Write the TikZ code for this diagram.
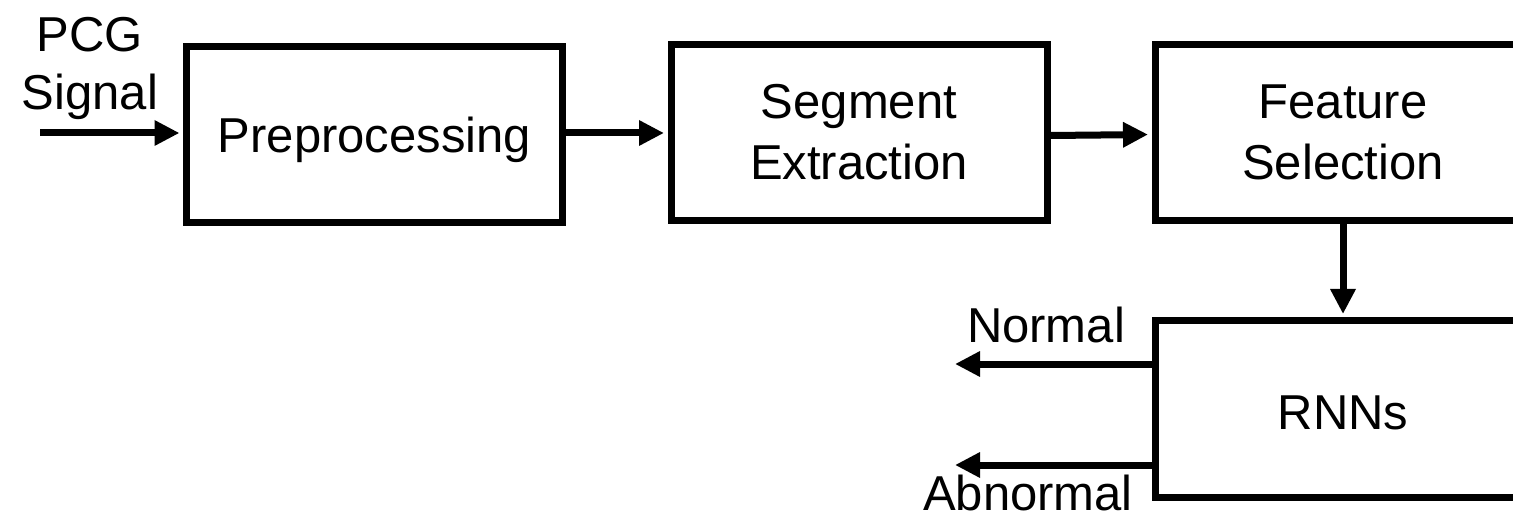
\documentclass[tikz,border=0pt]{standalone}
\usepackage{fontspec}
\setmainfont{Liberation Sans}
\usetikzlibrary{arrows.meta}
\begin{document}
\begin{tikzpicture}[x=1pt,y=-1pt,
  blk/.style={draw, line width=7pt, minimum width=376pt, minimum height=176pt, inner sep=0pt, align=center, font=\fontsize{49}{61}\selectfont},
  arr/.style={line width=7pt, -{Triangle[length=25pt,width=24pt]}},
  lbl/.style={font=\fontsize{49}{53}\selectfont, inner sep=0pt}]
\useasboundingbox (0,0) rectangle (1513,521);
\clip (0,0) rectangle (1513,521);
\node[blk, text height=47pt, text depth=11pt] (pre) at (374.5,134.5) {Preprocessing};
\node[blk] (seg) at (859,132.5) {Segment\\Extraction};
\node[blk] (fea) at (1343,132.5) {Feature\\Selection};
\node[blk, text height=40pt, text depth=0pt] (rnn) at (1343,409) {RNNs};
\node[lbl, anchor=base] (pcg) at (90,52) {PCG};
\node[lbl, anchor=base] (sig) at (90,110) {Signal};
\node[lbl, anchor=base] (tn) at (1046,342) {Normal};
\node[lbl, anchor=base] (ta) at (1028,510) {Abnormal};
\coordinate (in) at (40,133);
\coordinate (nrm) at (955,364);
\coordinate (abn) at (955,465);
\draw[arr, shorten >=3.5pt] (in) -- (in -| pre.west);
\draw[arr, shorten >=3.5pt] (pre.east |- in) -- (seg.west |- in);
\draw[arr, shorten >=3.5pt] ([yshift=-3pt]seg.east) -- ([yshift=-2pt]fea.west);
\draw[arr, shorten >=3.5pt] (fea.south) -- (rnn.north);
\draw[arr] (nrm -| rnn.west) -- (nrm);
\draw[arr] (abn -| rnn.west) -- (abn);
\end{tikzpicture}
\end{document}
